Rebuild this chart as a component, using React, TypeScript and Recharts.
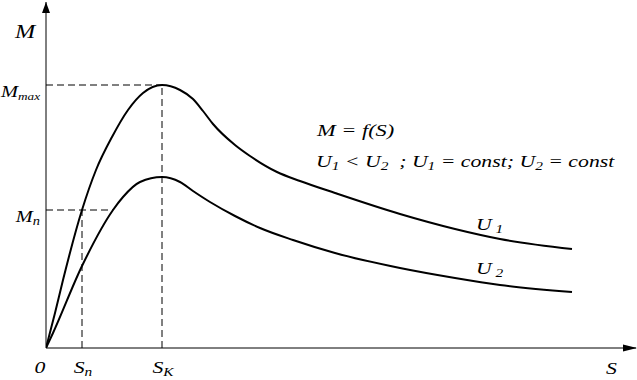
import React from 'react';
import { LineChart, Line, XAxis, YAxis, ReferenceLine, ReferenceDot } from 'recharts';

// Slip values (S) and torque values (M)
const S_U1 = [0, 0.09, 0.17, 0.36, 0.5, 0.66, 0.82, 0.97, 1.16, 1.34, 1.47, 1.57, 1.67, 1.89, 2.04, 2.31, 2.54, 2.89, 3.54, 4.09, 4.54, 5.26];
const M_U1 = [0, 0.35, 0.68, 1.38, 1.78, 2.11, 2.38, 2.55, 2.63, 2.58, 2.49, 2.37, 2.24, 2.03, 1.92, 1.76, 1.67, 1.55, 1.34, 1.19, 1.09, 0.99];
const S_U2 = [0, 0.07, 0.36, 0.67, 0.77, 0.94, 1.16, 1.34, 1.47, 1.64, 1.89, 2.14, 2.47, 2.89, 3.54, 4.09, 4.54, 5.26];
const M_U2 = [0, 0.15, 0.82, 1.38, 1.51, 1.66, 1.71, 1.66, 1.57, 1.46, 1.32, 1.2, 1.08, 0.95, 0.8, 0.7, 0.63, 0.56];

const S_MAX = 5.9;
const M_MAX_AXIS = 3.46;
const SN = 0.36;
const SK = 1.16;
const MMAX = 2.63;
const MN = 1.38;
const MN_END = 0.67;

type Part = { t: string; sub?: boolean; size?: number };
const xTickValues = [0, SN, SK];
const xTickLabels: Part[][] = [
  [{ t: '0' }],
  [{ t: 'S' }, { t: 'n', sub: true }],
  [{ t: 'S' }, { t: 'K', sub: true }],
];
const xTickShift = [-6, 1, 1];
const yTickValues = [MN, MMAX];
const yTickLabels: Part[][] = [
  [{ t: 'M' }, { t: 'n', sub: true }],
  [{ t: 'M' }, { t: 'max', sub: true, size: 11 }],
];

const NB = '\u00a0';
const formula1: Part[] = [{ t: `M${NB}=${NB}f(S)` }];
const formula2: Part[] = [
  { t: 'U' }, { t: '1', sub: true }, { t: `${NB}<${NB}U` }, { t: '2', sub: true },
  { t: `${NB}${NB};${NB}U` }, { t: '1', sub: true }, { t: `${NB}=${NB}const;${NB}U` },
  { t: '2', sub: true }, { t: `${NB}=${NB}const` },
];
const labelU1: Part[] = [{ t: 'U' }, { t: `${NB}1`, sub: true }];
const labelU2: Part[] = [{ t: 'U' }, { t: `${NB}2`, sub: true }];
const labelM: Part[] = [{ t: 'M' }];
const labelS: Part[] = [{ t: 'S' }];

const texts: { s: number; m: number; parts: Part[]; size: number }[] = [
  { s: -0.31, m: 3.1, parts: labelM, size: 19 },
  { s: 5.6, m: -0.26, parts: labelS, size: 17 },
  { s: 2.71, m: 2.12, parts: formula1, size: 17.5 },
  { s: 2.7, m: 1.81, parts: formula2, size: 17 },
  { s: 4.3, m: 1.18, parts: labelU1, size: 17 },
  { s: 4.3, m: 0.74, parts: labelU2, size: 17 },
];

const u1Data = S_U1.map((s, i) => ({ s, m: M_U1[i] }));
const u2Data = S_U2.map((s, i) => ({ s, m: M_U2[i] }));

const FONT = "'Liberation Serif', 'Times New Roman', Times, serif";

function MathText({ x, y, parts, size = 17, anchor = 'start', sx = 1.28 }: { x: number; y: number; parts: Part[]; size?: number; anchor?: string; sx?: number }) {
  const shift = 3;
  let cur = 0;
  const spans = parts.map((p, i) => {
    const target = p.sub ? shift : 0;
    const dy = target - cur;
    cur = target;
    const fs = p.size ?? (p.sub ? Math.round(size * 0.68) : size);
    return (
      <tspan key={i} dy={dy} fontSize={fs}>
        {p.t}
      </tspan>
    );
  });
  return (
    <g transform={`translate(${x},${y}) scale(${sx},1)`}>
      <text
        x={0}
        y={0}
        fontSize={size}
        fill="#000"
        textAnchor={anchor as any}
        style={{ fontFamily: FONT, fontStyle: 'italic' }}
      >
        {spans}
      </text>
    </g>
  );
}

const XTick = (props: any) => {
  const { x, y, payload, index } = props;
  const i = xTickValues.indexOf(payload.value);
  const k = i >= 0 ? i : index;
  return <MathText x={x + xTickShift[k]} y={y + 25} parts={xTickLabels[k]} anchor="middle" />;
};

const YTick = (props: any) => {
  const { x, y, payload, index } = props;
  const i = yTickValues.indexOf(payload.value);
  const k = i >= 0 ? i : index;
  return <MathText x={x - 6} y={y + 12} parts={yTickLabels[k]} anchor="end" sx={1.2} />;
};

const dash = '7 4';

export default function App() {
  return (
    <div style={{ position: 'absolute', left: 0, top: 0, background: '#fff' }}>
      <LineChart width={637} height={380} margin={{ top: 2, right: 1, bottom: 0, left: 0 }}>
        <XAxis
          type="number"
          dataKey="s"
          domain={[0, S_MAX]}
          ticks={xTickValues}
          tick={<XTick />}
          tickLine={false}
          tickSize={0}
          tickMargin={0}
          axisLine={{ stroke: '#000', strokeWidth: 1 }}
          height={32}
          allowDataOverflow
          interval={0}
        />
        <YAxis
          type="number"
          dataKey="m"
          domain={[0, M_MAX_AXIS]}
          ticks={yTickValues}
          tick={<YTick />}
          tickLine={false}
          tickSize={0}
          tickMargin={0}
          axisLine={{ stroke: '#000', strokeWidth: 1 }}
          width={46}
          allowDataOverflow
          interval={0}
        />
        <ReferenceLine segment={[{ x: 0, y: MMAX }, { x: SK, y: MMAX }]} stroke="#000" strokeDasharray={dash} ifOverflow="visible" />
        <ReferenceLine segment={[{ x: SK, y: 0 }, { x: SK, y: MMAX }]} stroke="#000" strokeDasharray={dash} ifOverflow="visible" />
        <ReferenceLine segment={[{ x: 0, y: MN }, { x: MN_END, y: MN }]} stroke="#000" strokeDasharray={dash} ifOverflow="visible" />
        <ReferenceLine segment={[{ x: SN, y: 0 }, { x: SN, y: MN }]} stroke="#000" strokeDasharray={dash} ifOverflow="visible" />
        <Line data={u1Data} dataKey="m" type="monotone" stroke="#000" strokeWidth={2} dot={false} isAnimationActive={false} />
        <Line data={u2Data} dataKey="m" type="monotone" stroke="#000" strokeWidth={2} dot={false} isAnimationActive={false} />
        <ReferenceDot
          x={S_MAX}
          y={0}
          r={1}
          ifOverflow="visible"
          shape={(p: any) => <polygon points={`${p.cx + 1},${p.cy} ${p.cx - 13},${p.cy - 3.5} ${p.cx - 13},${p.cy + 3.5}`} fill="#000" />}
        />
        <ReferenceDot
          x={0}
          y={M_MAX_AXIS}
          r={1}
          ifOverflow="visible"
          shape={(p: any) => <polygon points={`${p.cx},${p.cy} ${p.cx - 4},${p.cy + 11} ${p.cx + 4},${p.cy + 11}`} fill="#000" />}
        />
        {texts.map((t, i) => (
          <ReferenceDot
            key={i}
            x={t.s}
            y={t.m}
            r={1}
            ifOverflow="visible"
            shape={(p: any) => <MathText x={p.cx} y={p.cy} parts={t.parts} size={t.size} />}
          />
        ))}
      </LineChart>
    </div>
  );
}
